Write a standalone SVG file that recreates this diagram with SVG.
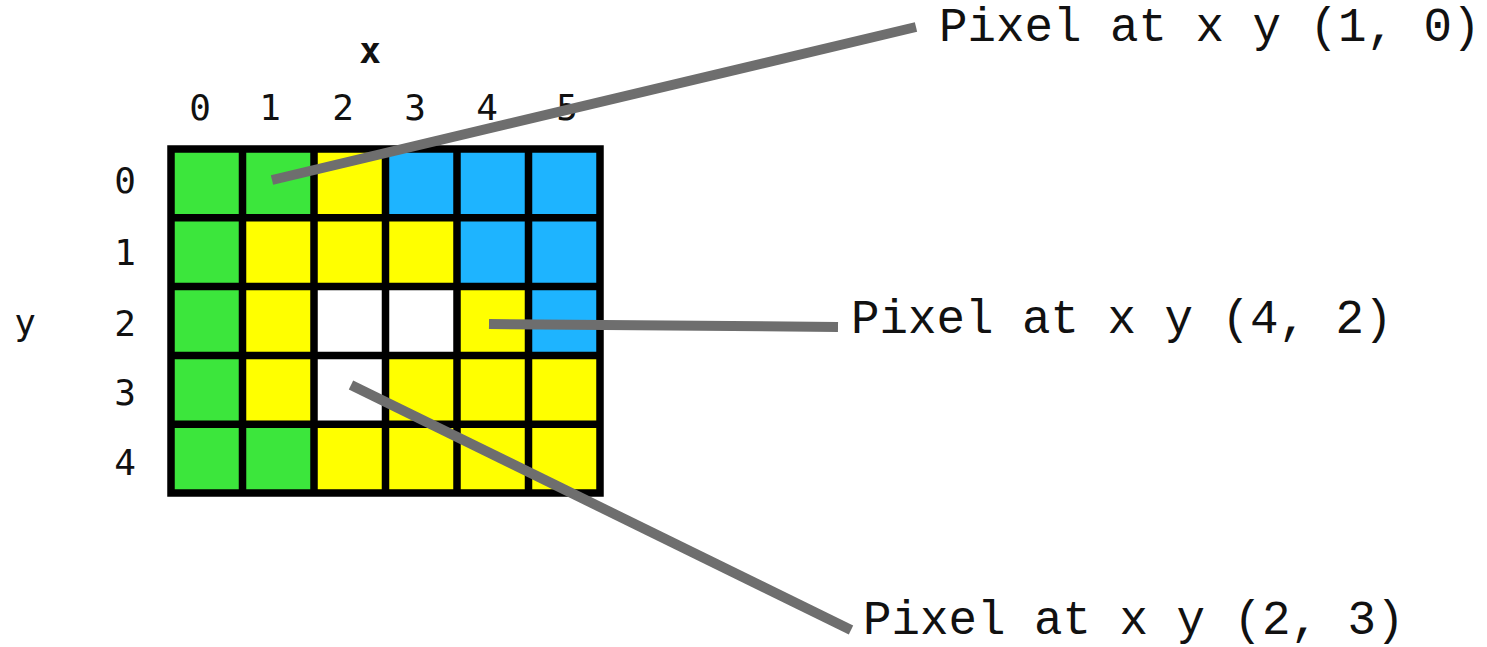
<svg xmlns="http://www.w3.org/2000/svg" width="1487" height="647" viewBox="0 0 1487 647">
<style>
.g{fill:#3ce63c}.yl{fill:#ffff00}.b{fill:#1eb4ff}.w{fill:#ffffff}
.grid{fill:none;stroke:#000;stroke-width:7.5}
.ax{font-family:"DejaVu Sans Mono",monospace;font-size:36px;fill:#111;text-anchor:middle}
.lbl{font-family:"Liberation Mono","Courier New",monospace;font-size:47.5px;fill:#111}
.conn{stroke:#6e6e6e;stroke-width:10;fill:none}
</style>
<rect width="1487" height="647" fill="#fff"/>
<g id="grid">
<rect class="g" x="171" y="149" width="71.5" height="68.8"/>
<rect class="g" x="242.5" y="149" width="71.5" height="68.8"/>
<rect class="yl" x="314" y="149" width="71.5" height="68.8"/>
<rect class="b" x="385.5" y="149" width="71.5" height="68.8"/>
<rect class="b" x="457" y="149" width="71.5" height="68.8"/>
<rect class="b" x="528.5" y="149" width="71.5" height="68.8"/>
<rect class="g" x="171" y="217.8" width="71.5" height="68.8"/>
<rect class="yl" x="242.5" y="217.8" width="71.5" height="68.8"/>
<rect class="yl" x="314" y="217.8" width="71.5" height="68.8"/>
<rect class="yl" x="385.5" y="217.8" width="71.5" height="68.8"/>
<rect class="b" x="457" y="217.8" width="71.5" height="68.8"/>
<rect class="b" x="528.5" y="217.8" width="71.5" height="68.8"/>
<rect class="g" x="171" y="286.6" width="71.5" height="68.8"/>
<rect class="yl" x="242.5" y="286.6" width="71.5" height="68.8"/>
<rect class="w" x="314" y="286.6" width="71.5" height="68.8"/>
<rect class="w" x="385.5" y="286.6" width="71.5" height="68.8"/>
<rect class="yl" x="457" y="286.6" width="71.5" height="68.8"/>
<rect class="b" x="528.5" y="286.6" width="71.5" height="68.8"/>
<rect class="g" x="171" y="355.4" width="71.5" height="68.8"/>
<rect class="yl" x="242.5" y="355.4" width="71.5" height="68.8"/>
<rect class="w" x="314" y="355.4" width="71.5" height="68.8"/>
<rect class="yl" x="385.5" y="355.4" width="71.5" height="68.8"/>
<rect class="yl" x="457" y="355.4" width="71.5" height="68.8"/>
<rect class="yl" x="528.5" y="355.4" width="71.5" height="68.8"/>
<rect class="g" x="171" y="424.2" width="71.5" height="68.8"/>
<rect class="g" x="242.5" y="424.2" width="71.5" height="68.8"/>
<rect class="yl" x="314" y="424.2" width="71.5" height="68.8"/>
<rect class="yl" x="385.5" y="424.2" width="71.5" height="68.8"/>
<rect class="yl" x="457" y="424.2" width="71.5" height="68.8"/>
<rect class="yl" x="528.5" y="424.2" width="71.5" height="68.8"/>
<path class="grid" d="M171,149H600V493H171Z M242.5,149V493 M314,149V493 M385.5,149V493 M457,149V493 M528.5,149V493 M171,217.8H600 M171,286.6H600 M171,355.4H600 M171,424.2H600"/>
</g>
<g id="axes">
<text class="ax" x="370" y="63" font-weight="bold">x</text>
<text class="ax" x="200" y="120">0</text>
<text class="ax" x="270" y="120">1</text>
<text class="ax" x="343" y="120">2</text>
<text class="ax" x="415" y="120">3</text>
<text class="ax" x="487" y="120">4</text>
<text class="ax" x="567" y="120">5</text>
<text class="ax" x="125" y="193">0</text>
<text class="ax" x="125" y="265">1</text>
<text class="ax" x="125" y="336">2</text>
<text class="ax" x="125" y="405">3</text>
<text class="ax" x="125" y="475">4</text>
<text class="ax" x="25" y="335">y</text>
</g>
<g id="connectors">
<line class="conn" x1="272" y1="180" x2="916" y2="27"/>
<line class="conn" x1="489" y1="324" x2="838" y2="327"/>
<line class="conn" x1="351" y1="385" x2="851" y2="630"/>
</g>
<g id="label-1-0"><text class="lbl" x="939" y="41">Pixel at x y (1, 0)</text></g>
<g id="label-4-2"><text class="lbl" x="851" y="333">Pixel at x y (4, 2)</text></g>
<g id="label-2-3"><text class="lbl" x="863" y="634">Pixel at x y (2, 3)</text></g>
</svg>
